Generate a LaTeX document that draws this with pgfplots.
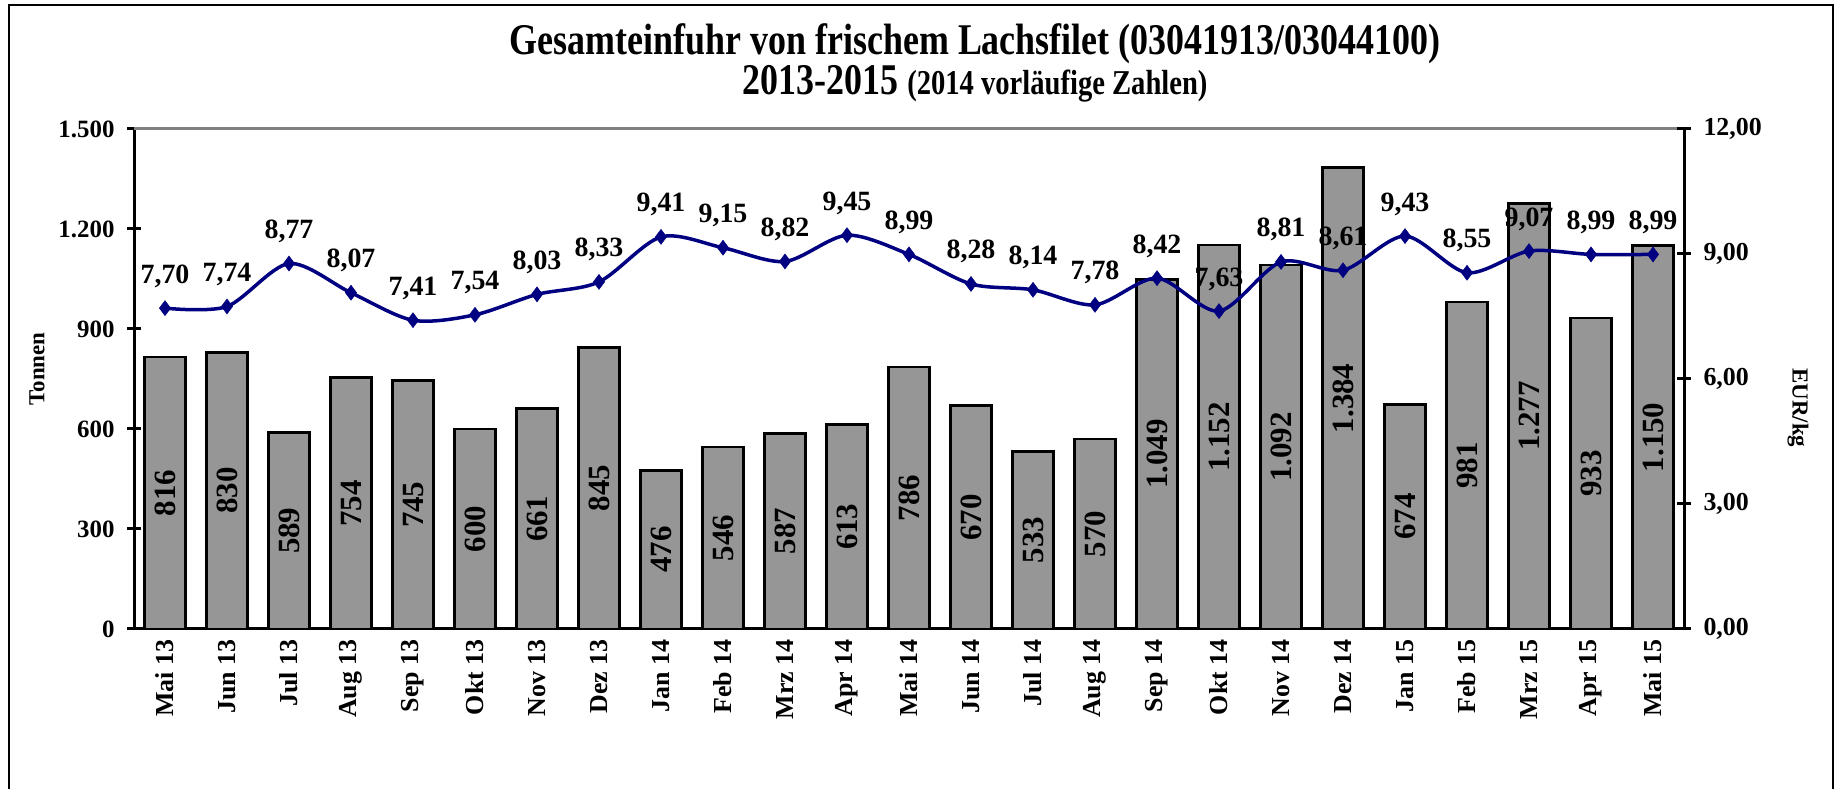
\documentclass[border=0pt]{standalone}
\usepackage{fontspec}
\setmainfont{Liberation Serif}
\newfontfamily\titlefont{Liberation Serif}[FakeStretch=0.82]
\usepackage{pgfplots}
\pgfplotsset{compat=1.18}
\usepackage{pgfplotstable}

\definecolor{barfill}{RGB}{150,150,150}
\definecolor{navyline}{RGB}{0,0,128}
\definecolor{topgray}{RGB}{128,128,128}

\newcommand{\fs}[1]{\fontsize{#1}{#1}\selectfont}

\pgfplotstableread{
x t p
0 816 7.70
1 830 7.74
2 589 8.77
3 754 8.07
4 745 7.41
5 600 7.54
6 661 8.03
7 845 8.33
8 476 9.41
9 546 9.15
10 587 8.82
11 613 9.45
12 786 8.99
13 670 8.28
14 533 8.14
15 570 7.78
16 1049 8.42
17 1152 7.63
18 1092 8.81
19 1384 8.61
20 674 9.43
21 981 8.55
22 1277 9.07
23 933 8.99
24 1150 8.99
}\datatable

\pgfplotsset{
  common/.style={
    scale only axis, width=1550bp, height=500bp,
    at={(134bp,160bp)}, anchor=south west,
    xmin=-0.5, xmax=24.5, clip=false,
    /pgf/number format/assume math mode=true,
    tick align=center, major tick length=14bp,
    every tick/.style={black, line width=3bp},
    axis line style={line width=3bp, black},
  }
}

\begin{document}
\begin{tikzpicture}[x=1bp,y=1bp]
\path[use as bounding box] (0,0) rectangle (1837,789);
\draw[line width=2.5bp] (9,-10) -- (9,784) -- (1833,784) -- (1833,-10);
\node[anchor=base, inner sep=0pt] at (975,734) {\titlefont\bfseries\fs{44}Gesamteinfuhr von frischem Lachsfilet (03041913/03044100)};
\node[anchor=base, inner sep=0pt] at (975,694) {\titlefont\bfseries\fs{44}2013-2015 \fs{35}(2014 vorläufige Zahlen)};

\begin{axis}[common,
  ymin=0, ymax=1500, ytick={0,300,...,1500},
  axis x line*=bottom, axis y line*=left,
  xtick={0,...,24},
  xticklabels={Mai 13,Jun 13,Jul 13,Aug 13,Sep 13,Okt 13,Nov 13,Dez 13,Jan 14,Feb 14,Mrz 14,Apr 14,Mai 14,Jun 14,Jul 14,Aug 14,Sep 14,Okt 14,Nov 14,Dez 14,Jan 15,Feb 15,Mrz 15,Apr 15,Mai 15},
  x tick label style={rotate=90, anchor=east, font=\bfseries\fs{26}},
  y tick label style={font=\bfseries\fs{25}, xshift=-9bp},
  x tick style={draw=none},
  /pgf/number format/1000 sep={.},
  ylabel={Tonnen},
  ylabel style={font=\bfseries\fs{23}, at={(axis description cs:-0.0626,0.52)}, anchor=center},
  every node near coord/.append style={rotate=90, anchor=center, font=\bfseries\fs{31}, black},
]
\draw[topgray, line width=3bp] (rel axis cs:0,1) -- (rel axis cs:1,1);
\addplot[ybar, bar width=0.66, fill=barfill, draw=black, line width=2.5bp] table[x=x,y=t] {\datatable};
\addplot[draw=none, mark=none, nodes near coords, point meta=explicit] table[x=x, y expr=\thisrow{t}/2, meta=t] {\datatable};
\end{axis}

\begin{axis}[common,
  ymin=0, ymax=12, ytick={0,3,...,12},
  axis y line*=right, axis x line=none, xtick=\empty,
  y tick label style={font=\bfseries\fs{26}, xshift=9bp},
  /pgf/number format/.cd, fixed, fixed zerofill, precision=2, use comma, /pgfplots/.cd,
  ylabel={EUR/kg},
  ylabel style={font=\bfseries\fs{23}, at={(axis description cs:1.0735,0.442)}, anchor=center, rotate=180},
  every node near coord/.append style={anchor=base, yshift=25bp, font=\bfseries\fs{28}, black},
]
\addplot[navyline, line width=3.5bp, smooth, tension=0.5, mark=diamond*, mark size=7.5bp, mark options={solid, fill=navyline, draw=navyline, line width=0.5bp}, nodes near coords, point meta=explicit] table[x=x,y=p,meta=p] {\datatable};
\end{axis}
\end{tikzpicture}
\end{document}
